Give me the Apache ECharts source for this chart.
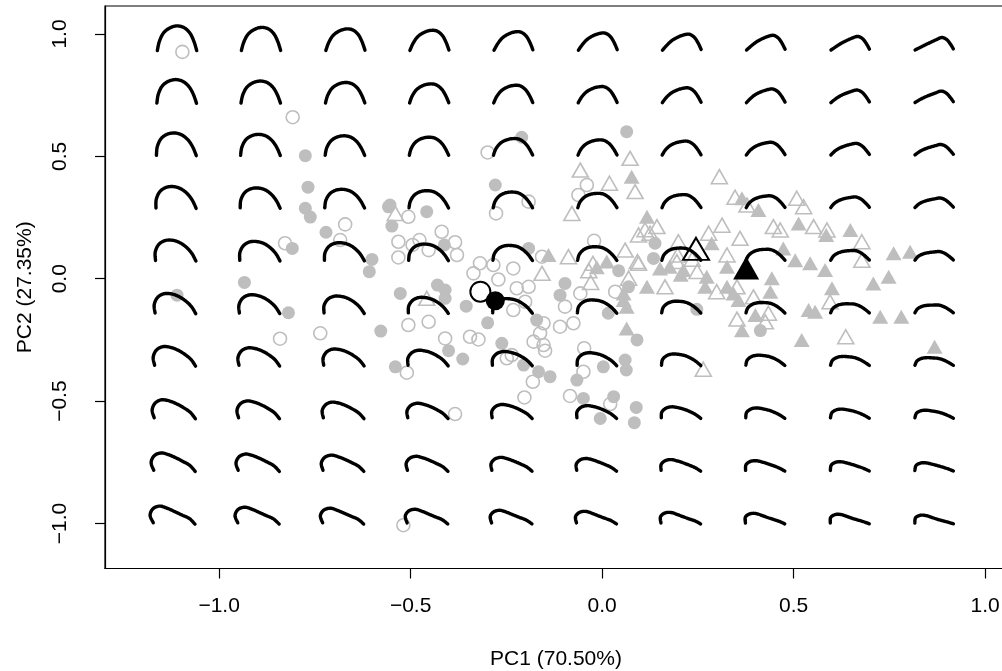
<!DOCTYPE html>
<html>
<head>
<meta charset="utf-8">
<script src="https://cdn.jsdelivr.net/npm/echarts@6/dist/echarts.min.js"></script>
<style>
html,body{margin:0;padding:0;background:#fff;}
#chart{width:1002px;height:671px;}
</style>
</head>
<body>
<div id="chart"></div>
<script>
// ---------------- data ----------------
const xTicks = [-1.0, -0.5, 0.0, 0.5, 1.0];
const yTicks = [-1.0, -0.5, 0.0, 0.5, 1.0];
const xTitle = 'PC1 (70.50%)';
const yTitle = 'PC2 (27.35%)';

// grid of back-transformed shapes (PC scores)
const pc1Grid = [-1.110, -0.891, -0.671, -0.452, -0.233, -0.013, 0.206, 0.425, 0.645, 0.864];
const pc2Grid = [0.984, 0.767, 0.551, 0.334, 0.117, -0.100, -0.316, -0.533, -0.750, -0.967];

// specimens
const openCircles = [
  [-1.096,0.927],[-0.808,0.660],[-0.671,0.222],[-0.684,0.158],[-0.828,0.145],[-0.841,-0.245],
  [-0.736,-0.223],[-0.506,0.253],[-0.192,0.315],[-0.277,0.267],[-0.419,0.192],[-0.532,0.151],
  [-0.477,0.158],[-0.495,0.138],[-0.384,0.149],[-0.453,0.117],[-0.379,0.097],[-0.532,0.087],
  [-0.157,0.090],[-0.319,0.063],[-0.336,0.022],[-0.284,0.056],[-0.232,0.042],[-0.271,-0.003],
  [-0.040,0.383],[-0.062,0.342],[-0.021,0.155],[-0.223,-0.039],[-0.192,-0.033],[-0.201,-0.094],
  [-0.232,-0.128],[-0.097,-0.114],[-0.057,-0.060],[0.034,-0.053],[-0.110,-0.196],[-0.075,-0.182],
  [-0.506,-0.189],[-0.453,-0.176],[-0.153,-0.182],[-0.162,-0.223],[-0.179,-0.257],[-0.153,-0.271],
  [-0.149,-0.294],[-0.410,-0.244],[-0.345,-0.237],[-0.323,-0.248],[-0.510,-0.384],[-0.249,-0.325],
  [-0.236,-0.312],[-0.181,-0.421],[-0.203,-0.485],[-0.047,-0.284],[-0.049,-0.380],[-0.084,-0.479],
  [0.021,-0.512],[-0.299,0.516],[-0.384,-0.553],[-0.519,-1.007]
];
const filledCircles = [
  [-0.775,0.503],[-0.768,0.374],[-0.775,0.288],[-0.762,0.252],[-0.721,0.190],[-0.809,0.124],
  [-0.558,0.294],[-0.601,0.079],[-0.608,0.029],[-0.934,-0.015],[-1.110,-0.067],[-0.819,-0.139],
  [-0.578,-0.214],[-0.279,0.383],[-0.549,0.215],[-0.458,0.274],[-0.412,0.138],[-0.192,0.124],
  [-0.527,-0.060],[-0.430,-0.026],[-0.410,-0.046],[-0.410,-0.080],[-0.355,-0.112],[-0.097,-0.019],
  [-0.110,-0.067],[-0.299,-0.180],[-0.171,-0.169],[-0.401,-0.294],[-0.364,-0.328],[-0.540,-0.360],
  [-0.262,-0.264],[-0.205,-0.353],[-0.166,-0.380],[-0.136,-0.400],[-0.066,-0.414],[-0.049,-0.489],
  [-0.005,-0.571],[0.030,-0.482],[0.060,-0.332],[0.063,-0.373],[0.091,-0.250],[0.089,-0.526],
  [0.084,-0.588],[0.003,-0.360],[0.016,-0.141],[0.043,0.033],[0.064,0.601],[-0.210,0.578],
  [0.134,0.083],[0.138,0.145],[0.069,-0.033],[0.247,-0.125],[0.413,-0.212],[-0.554,0.301]
];
const openTriangles = [
  [0.019,0.390],[0.086,0.356],[-0.540,0.267],[-0.079,0.267],[-0.088,0.090],[-0.157,0.022],
  [-0.024,0.063],[0.060,0.117],[0.092,0.070],[0.095,0.179],[0.143,0.213],[0.125,0.186],
  [-0.458,-0.080],[0.069,0.002],[0.073,0.492],[-0.057,0.444],[0.306,0.417],[0.347,0.333],
  [0.378,0.301],[0.508,0.329],[0.526,0.294],[0.095,0.063],[0.199,0.151],[0.278,0.186],
  [0.313,0.219],[0.360,0.165],[0.326,0.097],[0.299,-0.053],[0.352,-0.033],[0.164,-0.033],
  [0.447,0.213],[0.465,0.199],[0.552,0.213],[0.587,0.199],[0.678,0.151],[0.395,-0.074],
  [0.352,-0.165],[0.426,-0.176],[0.434,-0.141],[0.595,-0.094],[0.678,0.076],[0.636,-0.237],
  [0.264,-0.370],[0.195,0.070],[0.248,0.030],[0.197,0.097],[0.112,0.200],[0.235,0.080],
  [-0.035,0.033],[-0.030,-0.015]
];
const filledTriangles = [
  [-0.140,0.097],[-0.014,0.047],[0.012,0.070],[0.117,0.253],[0.151,0.042],[0.117,-0.033],
  [0.077,0.417],[0.365,0.329],[0.408,0.281],[0.212,0.036],[0.286,0.145],[0.326,0.049],
  [0.273,0.008],[0.326,-0.033],[0.343,-0.060],[0.356,-0.087],[0.269,-0.033],[0.513,0.226],
  [0.585,0.179],[0.648,0.199],[0.473,0.124],[0.504,0.076],[0.543,0.063],[0.582,0.036],
  [0.443,0.002],[0.439,-0.053],[0.365,-0.210],[0.600,-0.039],[0.539,-0.128],[0.556,-0.135],
  [0.708,-0.019],[0.748,0.008],[0.761,0.104],[0.804,0.110],[0.726,-0.155],[0.781,-0.155],
  [0.521,-0.250],[0.868,-0.278],[0.056,-0.087],[0.064,-0.203],[0.056,-0.060],[0.064,-0.114],
  [0.176,0.049],[0.205,0.016],[0.400,-0.148]
];
// group means
const meanOpenCircle = [[-0.318,-0.053]];
const meanFilledCircle = [[-0.279,-0.090]];
const meanOpenTriangle = [[0.245,0.122]];
const meanFilledTriangle = [[0.376,0.044]];

// ---------------- shape outline templates (glyph geometry, px offsets from grid node) ----------------
const outlineTL = [[-19.7,12.7],[-17.7,3.7],[-13.7,-4.7],[-7.7,-9.7],[-0.3,-12],[7,-10.3],[13,-4.7],[17,3.7],[19.7,12.7]];
const outlineTR = [[-18,12],[-12.7,9.4],[-7.5,6.8],[-2.2,4.3],[3.15,1.8],[8.65,-0.4],[13.5,1.56],[17.2,6.0],[20.3,11]];
const outlineBL = [[-23.7,7.4],[-26.9,0.0],[-24.1,-6.6],[-17.3,-9.3],[-9.7,-7.1],[-2.3,-3.8],[5,-0.36],[12.3,3.07],[18,8.7]];
const outlineBR = [[-18.3,7.7],[-17.45,2.28],[-12.5,-0.15],[-6.95,0.22],[-1.5,1.92],[3.86,3.8],[9.3,5.3],[14.85,6.76],[20.3,8.4]];

function catmull(pts, steps) {
  const out = [];
  const n = pts.length;
  for (let i = 0; i < n - 1; i++) {
    const p0 = pts[Math.max(i - 1, 0)], p1 = pts[i], p2 = pts[i + 1], p3 = pts[Math.min(i + 2, n - 1)];
    for (let s = 0; s < steps; s++) {
      const t = s / steps, t2 = t * t, t3 = t2 * t;
      const f = (a, b, c, d) => 0.5 * ((2 * b) + (-a + c) * t + (2 * a - 5 * b + 4 * c - d) * t2 + (-a + 3 * b - 3 * c + d) * t3);
      out.push([f(p0[0], p1[0], p2[0], p3[0]), f(p0[1], p1[1], p2[1], p3[1])]);
    }
  }
  out.push(pts[n - 1].slice());
  return out;
}

const shapeCells = [];
pc2Grid.forEach(b => pc1Grid.forEach(a => shapeCells.push([a, b])));

const GRAY = '#bebebe';
const FONT = 'Liberation Sans, Arial, Helvetica, sans-serif';
const fmt = v => (v < 0 ? '\u2212' : '') + Math.abs(v).toFixed(1);

const chart = echarts.init(document.getElementById('chart'), null, {renderer: 'canvas'});
chart.setOption({
  animation: false,
  backgroundColor: '#fff',
  grid: {left: 105, top: 6, right: -5, bottom: 102.5, show: true, borderColor: '#000', borderWidth: 1.2,
         backgroundColor: 'transparent', containLabel: false, outerBoundsMode: 'none'},
  xAxis: {
    type: 'value', min: -1.298, max: 1.057,
    axisLine: {show: true, onZero: false, lineStyle: {color: '#000', width: 1.2}}, splitLine: {show: false},
    axisTick: {show: true, inside: false, length: 10, customValues: xTicks, lineStyle: {color: '#000', width: 1.2}},
    axisLabel: {customValues: xTicks, formatter: fmt, fontSize: 21, color: '#000', fontFamily: FONT, margin: 27},
    name: xTitle, nameLocation: 'middle', nameGap: 80,
    nameTextStyle: {fontSize: 21, color: '#000', fontFamily: FONT}
  },
  yAxis: {
    type: 'value', min: -1.184, max: 1.1144,
    axisLine: {show: true, onZero: false, lineStyle: {color: '#000', width: 1.2}}, splitLine: {show: false},
    axisTick: {show: true, inside: false, length: 10, customValues: yTicks, lineStyle: {color: '#000', width: 1.2}},
    axisLabel: {customValues: yTicks, formatter: fmt, fontSize: 21, color: '#000', fontFamily: FONT, margin: 34, rotate: 90},
    name: yTitle, nameLocation: 'middle', nameGap: 69, nameRotate: 90,
    nameTextStyle: {fontSize: 21, color: '#000', fontFamily: FONT}
  },
  series: [
    {type: 'scatter', data: openCircles, symbol: 'circle', symbolSize: 13, z: 2,
     itemStyle: {color: 'rgba(0,0,0,0)', borderColor: GRAY, borderWidth: 1.6, opacity: 1}},
    {type: 'scatter', data: filledCircles, symbol: 'circle', symbolSize: 13, z: 2,
     itemStyle: {color: GRAY, opacity: 1}},
    {type: 'scatter', data: openTriangles, symbol: 'triangle', symbolSize: [16, 14], z: 2,
     itemStyle: {color: 'rgba(0,0,0,0)', borderColor: GRAY, borderWidth: 1.6, opacity: 1}},
    {type: 'scatter', data: filledTriangles, symbol: 'triangle', symbolSize: [16, 14], z: 2,
     itemStyle: {color: GRAY, opacity: 1}},
    {type: 'custom', data: shapeCells, z: 3, silent: true, clip: false,
     encode: {x: 0, y: 1},
     renderItem: function (params, api) {
       const a = api.value(0), b = api.value(1);
       const c = api.coord([a, b]);
       const u = (a - pc1Grid[0]) / (pc1Grid[pc1Grid.length - 1] - pc1Grid[0]);
       const v = (pc2Grid[0] - b) / (pc2Grid[0] - pc2Grid[pc2Grid.length - 1]);
       const w = [(1 - u) * (1 - v), u * (1 - v), (1 - u) * v, u * v];
       const lm = outlineTL.map((p, i) => [
         w[0] * p[0] + w[1] * outlineTR[i][0] + w[2] * outlineBL[i][0] + w[3] * outlineBR[i][0],
         w[0] * p[1] + w[1] * outlineTR[i][1] + w[2] * outlineBL[i][1] + w[3] * outlineBR[i][1]
       ]);
       const pts = catmull(lm, 8).map(p => [c[0] + p[0], c[1] + p[1]]);
       return {type: 'polyline', shape: {points: pts},
               style: {stroke: '#000', lineWidth: 3.4, fill: null, lineCap: 'round', lineJoin: 'round'}};
     }},
    {type: 'scatter', data: meanOpenCircle, symbol: 'circle', symbolSize: 20, z: 4,
     itemStyle: {color: 'rgba(0,0,0,0)', borderColor: '#000', borderWidth: 2, opacity: 1}},
    {type: 'scatter', data: meanFilledCircle, symbol: 'circle', symbolSize: 19, z: 4,
     itemStyle: {color: '#000', opacity: 1}},
    {type: 'scatter', data: meanOpenTriangle, symbol: 'triangle', symbolSize: [26, 22], z: 4,
     itemStyle: {color: 'rgba(0,0,0,0)', borderColor: '#000', borderWidth: 2, opacity: 1}},
    {type: 'scatter', data: meanFilledTriangle, symbol: 'triangle', symbolSize: [26, 23], z: 4,
     itemStyle: {color: '#000', opacity: 1}}
  ]
});
</script>
</body>
</html>
